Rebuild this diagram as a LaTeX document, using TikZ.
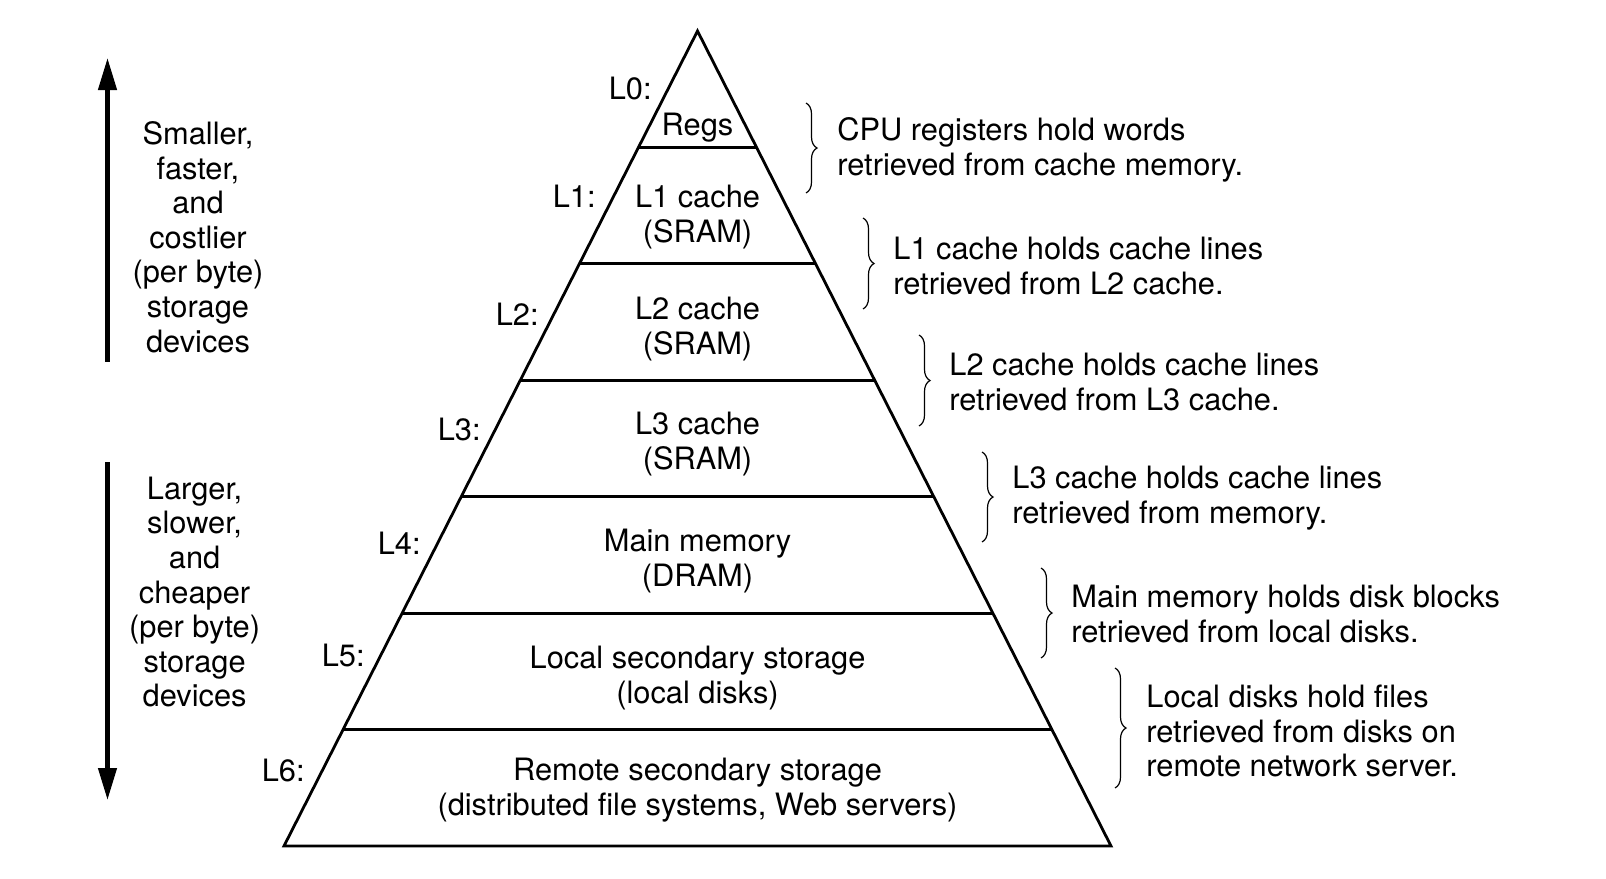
\documentclass[tikz,border=0pt]{standalone}
\usepackage{fontspec}
\setmainfont{TeX Gyre Heros}
\usetikzlibrary{calc,arrows.meta,decorations.pathreplacing}
\tikzset{
  pyr/.style={line width=1.4pt, line join=miter},
  lvltext/.style={font=\fontsize{15.4pt}{17.4pt}\selectfont, align=center, inner sep=0pt},
  lvllabel/.style={font=\fontsize{15.4pt}{17.4pt}\selectfont, anchor=east, inner sep=0pt},
  desc/.style={font=\fontsize{15.4pt}{17.4pt}\selectfont, align=left, anchor=west, inner sep=0pt},
  sidetext/.style={font=\fontsize{15.4pt}{17.3pt}\selectfont, align=center, inner sep=0pt},
  bigarrow/.style={line width=2.2pt, -{Triangle[width=9pt,length=16pt]}},
  bracestyle/.style={line width=0.6pt, decorate, decoration={brace, amplitude=5.5pt}}
}
\begin{document}
\begin{tikzpicture}[x=0.5pt,y=-0.5pt]
\useasboundingbox (0,0) rectangle (1606,878);
% pyramid
\coordinate (apex) at (697.5,31);
\coordinate (bl) at (284,846);
\coordinate (br) at (1111,846);
\draw[pyr] (apex) -- (bl) -- (br) -- cycle;
\foreach \k in {1,...,6}{
  \draw[pyr] ($(apex)!\k/7!(bl)$) -- ($(apex)!\k/7!(br)$);
}
% level texts
\node[lvltext] (t0) at (697.5,128) {Regs};
\node[lvltext] (t1) at (697.5,217) {L1 cache\\(SRAM)};
\node[lvltext] (t2) at (697.5,329) {L2 cache\\(SRAM)};
\node[lvltext] (t3) at (697.5,444) {L3 cache\\(SRAM)};
\node[lvltext] (t4) at (697.5,561) {Main memory\\(DRAM)};
\node[lvltext] (t5) at (697.5,678) {Local secondary storage\\(local disks)};
\node[lvltext] (t6) at (697.5,790) {Remote secondary storage\\(distributed file systems, Web servers)};
% level labels
\node[lvllabel] (l0) at (652,89) {L0:};
\node[lvllabel] (l1) at (596,196) {L1:};
\node[lvllabel] (l2) at (539,314) {L2:};
\node[lvllabel] (l3) at (481,429) {L3:};
\node[lvllabel] (l4) at (421,543) {L4:};
\node[lvllabel] (l5) at (365,655) {L5:};
\node[lvllabel] (l6) at (305,770) {L6:};
% braces
\coordinate (b1a) at (806,103); \coordinate (b1b) at (806,193);
\coordinate (b2a) at (863,218); \coordinate (b2b) at (863,309);
\coordinate (b3a) at (919,335); \coordinate (b3b) at (919,426);
\coordinate (b4a) at (982,452); \coordinate (b4b) at (982,542);
\coordinate (b5a) at (1041,568); \coordinate (b5b) at (1041,658);
\coordinate (b6a) at (1115,668); \coordinate (b6b) at (1115,788);
\foreach \i in {1,...,6}{
  \draw[bracestyle] (b\i a) -- (b\i b);
}
\node[desc] (d1) at (837,150) {CPU registers hold words\\retrieved from cache memory.};
\node[desc] (d2) at (893,266) {L1 cache holds cache lines\\retrieved from L2 cache.};
\node[desc] (d3) at (949,382) {L2 cache holds cache lines\\retrieved from L3 cache.};
\node[desc] (d4) at (1012,498) {L3 cache holds cache lines\\retrieved from memory.};
\node[desc] (d5) at (1071,614) {Main memory holds disk blocks\\retrieved from local disks.};
\node[desc] (d6) at (1146,731) {Local disks hold files\\retrieved from disks on\\remote network server.};
% side arrows
\coordinate (upA) at (107.5,361.5);
\coordinate (upB) at (107.5,58);
\coordinate (dnA) at (107.5,462);
\coordinate (dnB) at (107.5,800);
\draw[bigarrow] (upA) -- (upB);
\draw[bigarrow] (dnA) -- (dnB);
\node[sidetext] (s1) at (198,237) {Smaller,\\faster,\\and\\costlier\\(per byte)\\storage\\devices};
\node[sidetext] (s2) at (194.6,592) {Larger,\\slower,\\and\\cheaper\\(per byte)\\storage\\devices};
\end{tikzpicture}
\end{document}
